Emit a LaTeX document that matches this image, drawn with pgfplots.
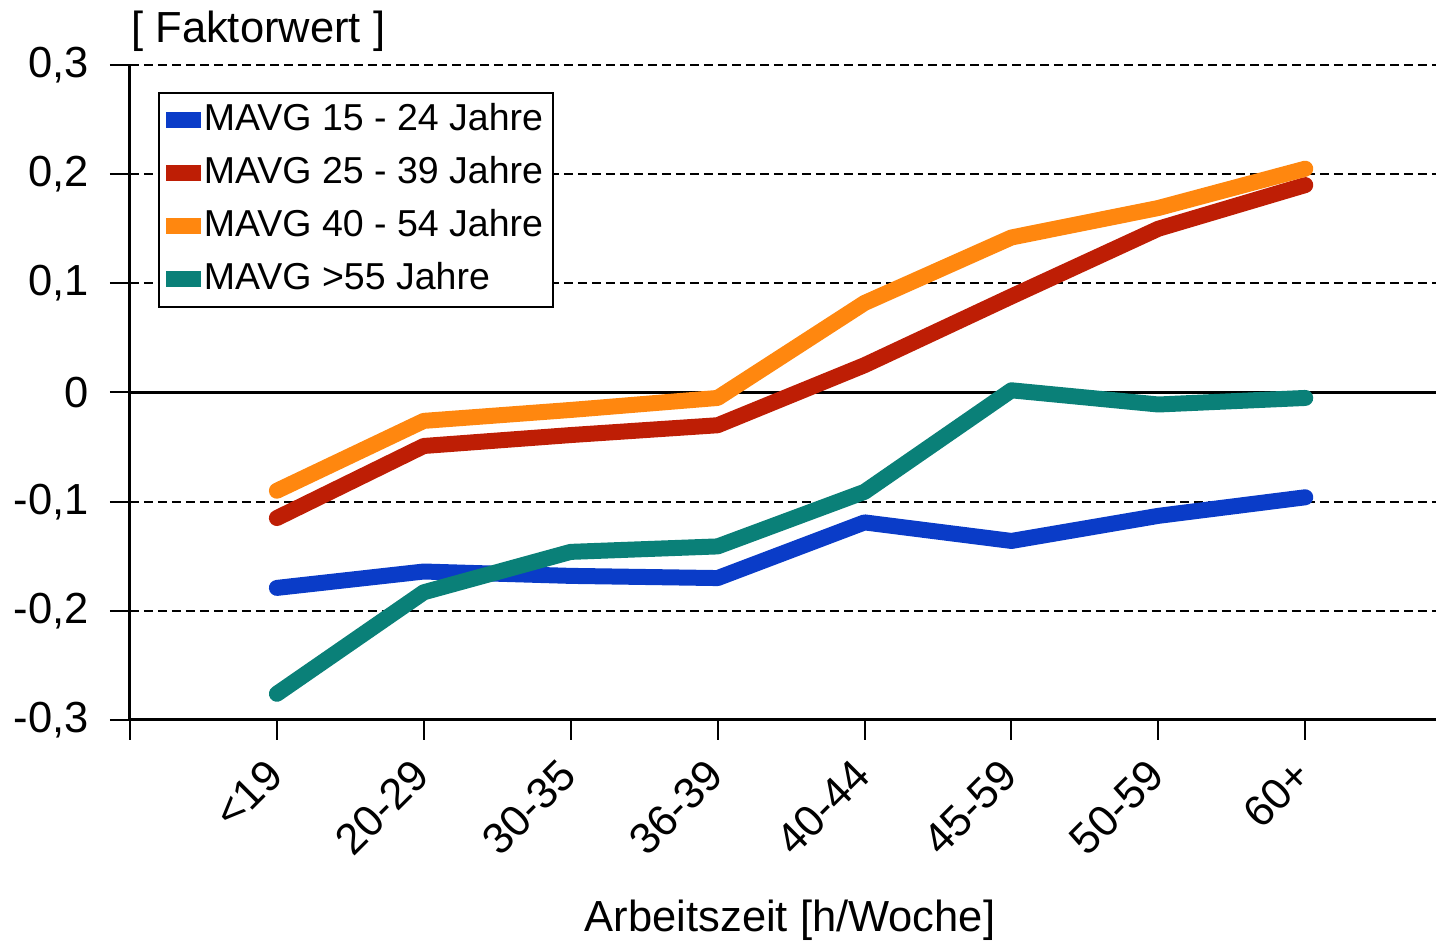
\documentclass[border=0pt]{standalone}
\usepackage{fontspec}
\setmainfont{Liberation Sans}
\usepackage{pgfplots}
\pgfplotsset{compat=1.18}
\definecolor{cblue}{RGB}{10,60,200}
\definecolor{cred}{RGB}{190,30,5}
\definecolor{corange}{RGB}{255,135,15}
\definecolor{cteal}{RGB}{10,128,120}
\begin{document}
\begin{tikzpicture}
\begin{axis}[
  scale only axis, width=522.4pt, height=262pt,
  xmin=0, xmax=8.89, ymin=-0.3, ymax=0.3,
  clip=false,
  axis x line*=bottom, axis y line*=left,
  axis line style={line width=1.2pt},
  xtick={0,...,8},
  xticklabels={,{<19},{20-29},{30-35},{36-39},{40-44},{45-59},{50-59},{60+}},
  ytick={-0.3,-0.2,-0.1,0.1,0.2,0.3},
  yticklabels={{-0,3},{-0,2},{-0,1},{0,1},{0,2},{0,3}},
  extra y ticks={0}, extra y tick labels={0},
  extra y tick style={grid style={solid, black, line width=1.2pt}},
  ymajorgrids,
  grid style={black, line width=0.8pt, dash pattern=on 3.6pt off 2pt},
  tick align=outside, major tick length=8pt,
  every tick/.style={black, line width=0.8pt},
  tick label style={font=\fontsize{17.4}{20}\selectfont},
  xticklabel style={rotate=45, anchor=east, xshift=-5.1pt, yshift=-7.3pt},
  yticklabel style={xshift=-5pt},
  legend cell align=left,
  legend style={at={(rel axis cs:0,1)}, anchor=north west, xshift=11.2pt, yshift=-10.8pt,
    draw=black, line width=0.8pt, font=\fontsize{15}{17}\selectfont,
    inner sep=3pt, row sep=5.2pt,
    nodes={inner sep=1pt, text height=11pt, text depth=3pt},
    every odd column/.style={column sep=0.3pt}},
  legend image code/.code={\path[#1, draw=none, fill] (0pt,-3.2pt) rectangle (14pt,3.2pt);},
]
\addplot[cblue, line width=6.4pt, line cap=round, line join=round] coordinates {
(1,-0.179) (2,-0.164) (3,-0.168) (4,-0.170) (5,-0.119) (6,-0.136) (7,-0.113) (8,-0.096)};
\addlegendentry{MAVG 15 - 24 Jahre\hspace{2pt}}
\addplot[cred, line width=6.4pt, line cap=round, line join=round] coordinates {
(1,-0.115) (2,-0.049) (3,-0.039) (4,-0.030) (5,0.025) (6,0.088) (7,0.150) (8,0.190)};
\addlegendentry{MAVG 25 - 39 Jahre}
\addplot[corange, line width=6.4pt, line cap=round, line join=round] coordinates {
(1,-0.090) (2,-0.026) (3,-0.016) (4,-0.005) (5,0.082) (6,0.142) (7,0.169) (8,0.205)};
\addlegendentry{MAVG 40 - 54 Jahre}
\addplot[cteal, line width=6.4pt, line cap=round, line join=round] coordinates {
(1,-0.276) (2,-0.183) (3,-0.146) (4,-0.141) (5,-0.091) (6,0.002) (7,-0.011) (8,-0.005)};
\addlegendentry{MAVG >55 Jahre}
\end{axis}
\node[anchor=base west, font=\fontsize{17.4}{20}\selectfont] at ([xshift=-3pt, yshift=8.8pt]current axis.north west) {[ Faktorwert ]};
\node[anchor=base, font=\fontsize{17.4}{20}\selectfont] at ([xshift=2.8pt, yshift=-84.8pt]current axis.south) {Arbeitszeit [h/Woche]};
\pgfresetboundingbox
\useasboundingbox ([xshift=-52pt,yshift=-88.8pt]current axis.south west) rectangle ([yshift=26pt]current axis.north east);
\end{tikzpicture}
\end{document}
